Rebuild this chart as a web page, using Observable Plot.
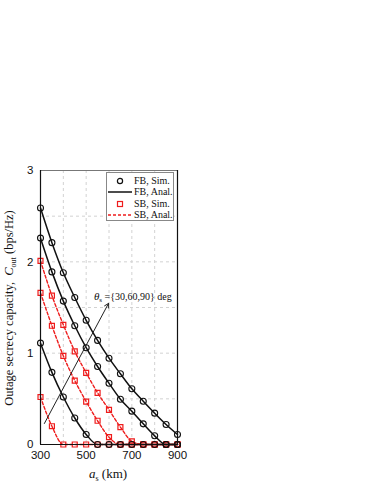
<!DOCTYPE html>
<html>
<head>
<meta charset="utf-8">
<script src="https://cdn.jsdelivr.net/npm/d3@7"></script>
<script src="https://cdn.jsdelivr.net/npm/@observablehq/plot@0.6"></script>
<style>
  html, body { margin: 0; padding: 0; background: #fff; }
  #wrap { position: relative; width: 374px; height: 484px; }
  #legend { position: absolute; left: 106px; top: 172px; width: 68px; height: 49px;
    border: 1px solid #888; background: #fff; box-sizing: border-box;
    font-family: "Liberation Serif", "DejaVu Serif", serif; font-size: 10px; color: #111; }
  #legend .row { position: absolute; left: 0; height: 12px; width: 100%; }
  #legend .row svg { position: absolute; left: 0; top: 0; }
  #legend .row span { position: absolute; left: 27px; top: -1px; line-height: 13px; white-space: nowrap; }
</style>
</head>
<body>
<div id="wrap"></div>
<script>
// ---- data ----
const asKm = [300, 350, 400, 450, 500, 550, 600, 650, 700, 750, 800, 850, 900];
const fb30 = [1.11, 0.79, 0.52, 0.29, 0.11, 0, 0, 0, 0, 0, 0, 0, 0];
const fb60 = [2.26, 1.89, 1.57, 1.30, 1.06, 0.854, 0.67, 0.496, 0.365, 0.226, 0.095, 0, 0];
const fb90 = [2.59, 2.21, 1.88, 1.61, 1.36, 1.14, 0.945, 0.774, 0.61, 0.474, 0.343, 0.219, 0.109];
const sb30 = [0.52, 0.20, 0, 0, 0, 0, 0, 0, 0, 0, 0, 0, 0];
const sb60 = [1.66, 1.30, 0.97, 0.70, 0.47, 0.26, 0.08, 0, 0, 0, 0, 0, 0];
const sb90 = [2.01, 1.63, 1.31, 1.02, 0.785, 0.566, 0.38, 0.19, 0.035, 0, 0, 0, 0];
const xTicks = [300, 500, 700, 900];
const yTicks = [0, 1, 2, 3];
const xGrid = [400, 500, 600, 700, 800];
const yGrid = [0.5, 1, 1.5, 2, 2.5];
const arrowFrom = [317, 0.23];
const arrowTo = [598, 1.545];
const labelAt = [534, 1.62];

const RED = "#ee1c1c";
function rows(vals, series, scheme) {
  return asKm.map((x, i) => ({x, y: vals[i], series, scheme}));
}
const fbData = [...rows(fb30, "fb30", "FB"), ...rows(fb60, "fb60", "FB"), ...rows(fb90, "fb90", "FB")];
const sbData = [...rows(sb30, "sb30", "SB"), ...rows(sb60, "sb60", "SB"), ...rows(sb90, "sb90", "SB")];

const serif = "'Liberation Serif', 'DejaVu Serif', serif";

const svg = Plot.plot({
  width: 374, height: 484,
  marginLeft: 40, marginRight: 197, marginTop: 170, marginBottom: 40,
  style: { fontFamily: "'Liberation Sans', Arial, sans-serif", fontSize: "11.5px", background: "#fff", color: "#111" },
  x: { domain: [300, 900], ticks: xTicks, tickFormat: d => String(d), tickSize: 0, tickPadding: 6, label: null },
  y: { domain: [0, 3], ticks: yTicks, tickFormat: d => String(d), tickSize: 0, tickPadding: 7, label: null },
  marks: [
    Plot.ruleX(xGrid, { stroke: "#d2d2d2", strokeDasharray: "3,3", strokeWidth: 1 }),
    Plot.ruleY(yGrid, { stroke: "#d2d2d2", strokeDasharray: "3,3", strokeWidth: 1 }),
    Plot.ruleY([3], { stroke: "#777", strokeWidth: 1.2 }),
    Plot.line(sbData, { x: "x", y: "y", z: "series", stroke: RED, strokeWidth: 1.4, strokeDasharray: "3,2", curve: "monotone-x" }),
    Plot.line(fbData, { x: "x", y: "y", z: "series", stroke: "#111", strokeWidth: 1.5, curve: "monotone-x" }),
    Plot.dot(sbData, { x: "x", y: "y", symbol: "square", r: 2.8, stroke: RED, strokeWidth: 1.2, fill: "none" }),
    Plot.dot(fbData, { x: "x", y: "y", symbol: "circle", r: 3, stroke: "#111", strokeWidth: 1.1, fill: "none" }),
    Plot.ruleX([300, 900], { stroke: "#111", strokeWidth: 1.2 }),
    Plot.ruleY([0], { stroke: "#111", strokeWidth: 1.2 }),
    Plot.arrow([{x1: arrowFrom[0], y1: arrowFrom[1], x2: arrowTo[0], y2: arrowTo[1]}],
      { x1: "x1", y1: "y1", x2: "x2", y2: "y2", stroke: "#222", strokeWidth: 1, headLength: 7, bend: 0 }),
    Plot.text([{x: labelAt[0], y: labelAt[1]}], { x: "x", y: "y", text: () => "θs ={30,60,90} deg",
      textAnchor: "start", fontFamily: serif, fontSize: 10, fill: "#111", className: "thlabel" })
  ]
});

// subscript in the annotation
d3.select(svg).selectAll(".thlabel text").each(function() {
  const t = d3.select(this);
  t.text("");
  t.append("tspan").attr("font-style", "italic").attr("font-size", 11).text("θ");
  t.append("tspan").attr("font-size", 7).attr("dy", 2).text("s");
  t.append("tspan").attr("dy", -2).text(" ={30,60,90} deg");
});

const g = d3.select(svg).append("g").attr("font-family", serif).attr("fill", "#111");
// y-axis label
const yl = g.append("text").attr("transform", "translate(13,308) rotate(-90)")
  .attr("text-anchor", "middle").attr("font-size", 12.5);
yl.append("tspan").text("Outage secrecy capacity,  ");
yl.append("tspan").attr("font-style", "italic").text("C");
yl.append("tspan").attr("font-size", 8).attr("dy", 3).text("out");
yl.append("tspan").attr("dy", -3).text(" (bps/Hz)");
// x-axis label
const xl = g.append("text").attr("x", 108).attr("y", 478).attr("text-anchor", "middle").attr("font-size", 13);
xl.append("tspan").attr("font-style", "italic").text("a");
xl.append("tspan").attr("font-size", 8).attr("dy", 3).text("s");
xl.append("tspan").attr("dy", -3).text(" (km)");

const wrap = document.getElementById("wrap");
wrap.appendChild(svg);

// legend
const legend = document.createElement("div");
legend.id = "legend";
const items = [
  { label: "FB, Sim.", kind: "circle" },
  { label: "FB, Anal.", kind: "solid" },
  { label: "SB, Sim.", kind: "square" },
  { label: "SB, Anal.", kind: "dashed" }
];
items.forEach((it, i) => {
  const row = document.createElement("div");
  row.className = "row";
  row.style.top = (1.5 + i * 11.5) + "px";
  let sym = "";
  if (it.kind === "circle") sym = `<circle cx="13" cy="6" r="2.6" fill="none" stroke="#111" stroke-width="1.2"/>`;
  if (it.kind === "solid") sym = `<line x1="1" x2="25" y1="6" y2="6" stroke="#111" stroke-width="1.5"/>`;
  if (it.kind === "square") sym = `<rect x="10.5" y="3.5" width="5" height="5" fill="none" stroke="${RED}" stroke-width="1.2"/>`;
  if (it.kind === "dashed") sym = `<line x1="1" x2="25" y1="6" y2="6" stroke="${RED}" stroke-width="1.4" stroke-dasharray="3,2"/>`;
  row.innerHTML = `<svg width="27" height="12">${sym}</svg><span>${it.label}</span>`;
  legend.appendChild(row);
});
wrap.appendChild(legend);
</script>
</body>
</html>
